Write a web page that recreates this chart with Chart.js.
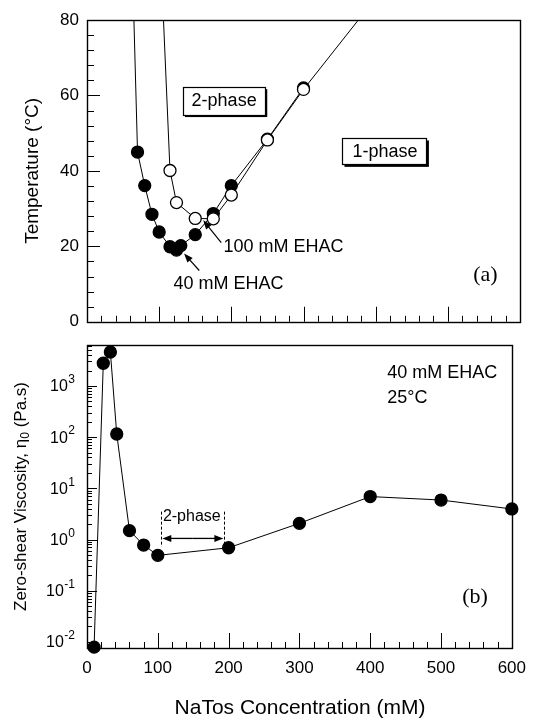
<!DOCTYPE html>
<html><head><meta charset="utf-8">
<script src="https://cdn.jsdelivr.net/npm/chart.js@4"></script>
<style>
html,body{margin:0;padding:0;background:#fff;width:536px;height:721px;overflow:hidden}
canvas{position:absolute;left:0}
#c1{top:0;width:536px;height:340px}
#c2{top:330px;width:536px;height:391px}
</style></head><body>
<canvas id="c1" width="536" height="340"></canvas>
<canvas id="c2" width="536" height="391"></canvas>
<script>
// ---- Panel (a): phase boundary temperature vs NaTos ----
const conc40  = [70, 80, 90, 100, 115, 124, 130, 150, 175, 200, 250, 300];
const temp40  = [45.0, 36.1, 28.5, 23.8, 19.9, 19.0, 20.2, 23.1, 28.7, 36.1, 48.4, 62.0];
const conc100 = [115, 124, 150, 175, 200, 250, 300];
const temp100 = [40.1, 31.6, 27.4, 27.3, 33.6, 48.2, 61.6];
// boundary lines drawn past the measured points (to the top of the panel)
const guide40X  = [65, 70];   const guide40Y  = [80, 45.0];
const guide100X = [106, 115]; const guide100Y = [80, 40.1];
const guideHiX  = [300, 376]; const guideHiY  = [61.6, 80];
const tempTicks = [0, 20, 40, 60, 80];

// ---- Panel (b): zero-shear viscosity vs NaTos ----
const concB = [10, 23, 33, 42, 60, 80, 100, 200, 300, 400, 500, 600];
const viscB = [0.0079, 2770, 4600, 115, 1.49, 0.78, 0.49, 0.69, 2.07, 6.9, 5.9, 3.95];
const concTicks = [0, 100, 200, 300, 400, 500, 600];
const viscDecades = [-2, -1, 0, 1, 2, 3];

const SANS = '"Liberation Sans", Arial, Helvetica, sans-serif';
const SERIF = '"Liberation Serif", "Times New Roman", serif';
const pts = (xs, ys) => xs.map((x, i) => ({x, y: ys[i]}));
const px = v => Math.round(v) + 0.5;

function arrow(ctx, x1, y1, x2, y2, hl, hw) {
  const ang = Math.atan2(y2 - y1, x2 - x1);
  ctx.beginPath(); ctx.moveTo(x1, y1);
  ctx.lineTo(x2 - Math.cos(ang) * hl * 0.8, y2 - Math.sin(ang) * hl * 0.8); ctx.stroke();
  ctx.beginPath(); ctx.moveTo(x2, y2);
  ctx.lineTo(x2 - hl * Math.cos(ang) + hw * Math.sin(ang), y2 - hl * Math.sin(ang) - hw * Math.cos(ang));
  ctx.lineTo(x2 - hl * Math.cos(ang) - hw * Math.sin(ang), y2 - hl * Math.sin(ang) + hw * Math.cos(ang));
  ctx.closePath(); ctx.fill();
}
function box(ctx, cx, cy, text, x1, y1, x2, y2) {
  ctx.fillStyle = '#000';
  ctx.fillRect(x1 + 2, y1 + 2, x2 - x1, y2 - y1);
  ctx.fillStyle = '#fff';
  ctx.fillRect(x1, y1, x2 - x1, y2 - y1);
  ctx.strokeStyle = '#000'; ctx.lineWidth = 1.2;
  ctx.strokeRect(px(x1), px(y1), Math.round(x2 - x1), Math.round(y2 - y1));
  ctx.fillStyle = '#000';
  ctx.textAlign = 'center'; ctx.textBaseline = 'middle';
  ctx.fillText(text, cx, cy);
}

const frameA = {
  id: 'frameA',
  beforeDatasetsDraw(chart) {
    const {ctx, chartArea: a, scales: {x, y}} = chart;
    ctx.save();
    ctx.strokeStyle = '#000'; ctx.lineWidth = 1.4;
    ctx.strokeRect(px(a.left), px(a.top), Math.round(a.right - a.left), Math.round(a.bottom - a.top));
    ctx.lineWidth = 1; ctx.beginPath();
    for (let v = 20; v < 600; v += 20) {
      const X = px(x.getPixelForValue(v)), L = v % 100 === 0 ? 15 : 6;
      ctx.moveTo(X, a.bottom); ctx.lineTo(X, a.bottom - L);
    }
    for (let v = 4; v < 80; v += 4) {
      const Y = px(y.getPixelForValue(v)), L = v % 20 === 0 ? 13 : 7;
      ctx.moveTo(a.left, Y); ctx.lineTo(a.left + L, Y);
    }
    ctx.stroke();
    // axis title
    ctx.fillStyle = '#000'; ctx.font = '19px ' + SANS;
    ctx.translate(33, (a.top + a.bottom) / 2); ctx.rotate(-Math.PI / 2);
    ctx.textAlign = 'center'; ctx.textBaseline = 'middle';
    ctx.fillText('Temperature (°C)', 0, 0);
    ctx.restore();
  },
  afterDatasetsDraw(chart) {
    const {ctx, scales: {x, y}} = chart;
    const X = v => x.getPixelForValue(v), Y = v => y.getPixelForValue(v);
    ctx.save();
    ctx.font = '18px ' + SANS;
    box(ctx, X(190), Y(58.5), '2-phase', X(133), Y(62.2), X(247), Y(54.8));
    box(ctx, X(413), Y(45.1), '1-phase', X(354), Y(48.6), X(471), Y(41.6));
    ctx.fillStyle = '#000'; ctx.textAlign = 'left'; ctx.textBaseline = 'middle';
    ctx.fillText('100 mM EHAC', X(189), Y(19.7));
    ctx.fillText('40 mM EHAC', X(120), Y(10.1));
    ctx.strokeStyle = '#000'; ctx.lineWidth = 1.2;
    arrow(ctx, X(186), Y(21), X(161), Y(26.9), 9, 3.5);
    arrow(ctx, X(155.5), Y(13.6), X(134.5), Y(18.1), 9, 3.5);
    ctx.font = '22px ' + SERIF; ctx.textAlign = 'center';
    ctx.fillText('(a)', X(552), Y(12.3));
    ctx.restore();
  }
};

const frameB = {
  id: 'frameB',
  beforeDatasetsDraw(chart) {
    const {ctx, chartArea: a, scales: {x, y}} = chart;
    ctx.save();
    ctx.strokeStyle = '#000'; ctx.lineWidth = 1.4;
    ctx.strokeRect(px(a.left), px(a.top), Math.round(a.right - a.left), Math.round(a.bottom - a.top));
    ctx.lineWidth = 1; ctx.beginPath();
    for (let v = 20; v < 600; v += 20) {
      const X = px(x.getPixelForValue(v)), L = v % 100 === 0 ? 15 : 6;
      ctx.moveTo(X, a.bottom); ctx.lineTo(X, a.bottom - L);
    }
    for (let d = -3; d <= 3; d++) {
      for (let k = 1; k <= 9; k++) {
        const v = k * Math.pow(10, d);
        if (v <= y.min || v >= y.max) continue;
        const Y = px(y.getPixelForValue(v)), L = k === 1 ? 10 : 5;
        ctx.moveTo(a.left, Y); ctx.lineTo(a.left + L, Y);
      }
    }
    ctx.stroke();
    // log tick labels 10^n
    ctx.fillStyle = '#000';
    viscDecades.forEach(d => {
      const Y = y.getPixelForValue(Math.pow(10, d));
      const e = String(d);
      ctx.font = '12px ' + SANS; const we = ctx.measureText(e).width;
      ctx.textAlign = 'left'; ctx.textBaseline = 'middle';
      const right = 75;
      ctx.fillText(e, right - we, Y - 6);
      ctx.font = '16px ' + SANS; const wb = ctx.measureText('10').width;
      ctx.fillText('10', right - we - wb - 0.5, Y + 1);
    });
    // y-axis title with subscript
    ctx.translate(21, (a.top + a.bottom) / 2); ctx.rotate(-Math.PI / 2);
    const p1 = 'Zero-shear Viscosity, η', p2 = '0', p3 = ' (Pa.s)';
    ctx.font = '17px ' + SANS; const w1 = ctx.measureText(p1).width, w3 = ctx.measureText(p3).width;
    ctx.font = '12px ' + SANS; const w2 = ctx.measureText(p2).width;
    let sx = -(w1 + w2 + w3) / 2;
    ctx.textBaseline = 'middle'; ctx.textAlign = 'left';
    ctx.font = '17px ' + SANS; ctx.fillText(p1, sx, 0); sx += w1;
    ctx.font = '12px ' + SANS; ctx.fillText(p2, sx, 5); sx += w2;
    ctx.font = '17px ' + SANS; ctx.fillText(p3, sx, 0);
    ctx.restore();
    // x-axis title
    ctx.save();
    ctx.fillStyle = '#000'; ctx.font = '21px ' + SANS;
    ctx.textAlign = 'center'; ctx.textBaseline = 'middle';
    ctx.fillText('NaTos Concentration (mM)', 300, 378);
    ctx.restore();
  },
  afterDatasetsDraw(chart) {
    const {ctx, scales: {x, y}} = chart;
    const X = v => x.getPixelForValue(v), Y = v => y.getPixelForValue(v);
    ctx.save();
    ctx.fillStyle = '#000'; ctx.strokeStyle = '#000';
    ctx.font = '18px ' + SANS; ctx.textAlign = 'left'; ctx.textBaseline = 'middle';
    ctx.fillText('40 mM EHAC', X(424), Y(1778));
    ctx.fillText('25°C', X(424), Y(575));
    ctx.font = '22px ' + SERIF; ctx.textAlign = 'center';
    ctx.fillText('(b)', X(548), Y(0.076));
    // 2-phase bracket
    ctx.lineWidth = 1; ctx.setLineDash([3, 2]);
    ctx.beginPath();
    ctx.moveTo(px(X(105)), Y(3.5)); ctx.lineTo(px(X(105)), Y(0.72));
    ctx.moveTo(px(X(194)), Y(3.5)); ctx.lineTo(px(X(194)), Y(0.72));
    ctx.stroke(); ctx.setLineDash([]);
    ctx.lineWidth = 1.3;
    const ya = Y(1.05), xm = (X(105) + X(194)) / 2;
    arrow(ctx, xm, ya, X(105) + 1, ya, 9, 3.5);
    arrow(ctx, xm, ya, X(194) - 1, ya, 9, 3.5);
    ctx.font = '16px ' + SANS; ctx.textAlign = 'center';
    ctx.fillText('2-phase', X(148), Y(2.8));
    ctx.restore();
  }
};

const lineDs = (data, fill, r) => ({
  data, showLine: true, borderColor: '#000', borderWidth: 1, tension: 0,
  pointRadius: r, pointBackgroundColor: fill, pointBorderColor: '#000',
  pointBorderWidth: 1.3, clip: false
});
const common = {
  responsive: false, animation: false, events: [],
  plugins: {legend: {display: false}, tooltip: {enabled: false}}
};

new Chart(document.getElementById('c1'), {
  type: 'scatter',
  data: {datasets: [
    lineDs(pts(conc100, temp100), '#fff', 6),
    lineDs(pts(conc40, temp40), '#000', 6),
    lineDs(pts(guide40X, guide40Y), '#000', 0),
    lineDs(pts(guide100X, guide100Y), '#000', 0),
    lineDs(pts(guideHiX, guideHiY), '#000', 0)
  ]},
  options: Object.assign({}, common, {
    layout: {padding: {top: 20, right: 16, left: 0, bottom: 0}},
    scales: {
      x: {type: 'linear', min: 0, max: 600, grid: {display: false, drawTicks: false}, border: {display: false},
          ticks: {display: false}, afterFit(s) { s.height = 15; }},
      y: {type: 'linear', min: 0, max: 80, grid: {display: false, drawTicks: false}, border: {display: false},
          afterBuildTicks(s) { s.ticks = tempTicks.map(v => ({value: v})); },
          ticks: {padding: 8, color: '#000', font: {family: SANS, size: 17}},
          afterFit(s) { s.width = 87; }}
    }
  }),
  plugins: [frameA]
});

new Chart(document.getElementById('c2'), {
  type: 'scatter',
  data: {datasets: [ lineDs(pts(concB, viscB), '#000', 6) ]},
  options: Object.assign({}, common, {
    layout: {padding: {top: 15, right: 16, left: 0, bottom: 0}},
    scales: {
      x: {type: 'linear', min: 0, max: 600, grid: {display: false, drawTicks: false}, border: {display: false},
          afterBuildTicks(s) { s.ticks = concTicks.map(v => ({value: v})); },
          ticks: {padding: 10, color: '#000', font: {family: SANS, size: 17}},
          afterFit(s) { s.height = 73; }},
      y: {type: 'logarithmic', min: 0.0076, max: 6300, grid: {display: false, drawTicks: false}, border: {display: false},
          ticks: {display: false}, afterFit(s) { s.width = 87; }}
    }
  }),
  plugins: [frameB]
});
</script>
</body></html>
